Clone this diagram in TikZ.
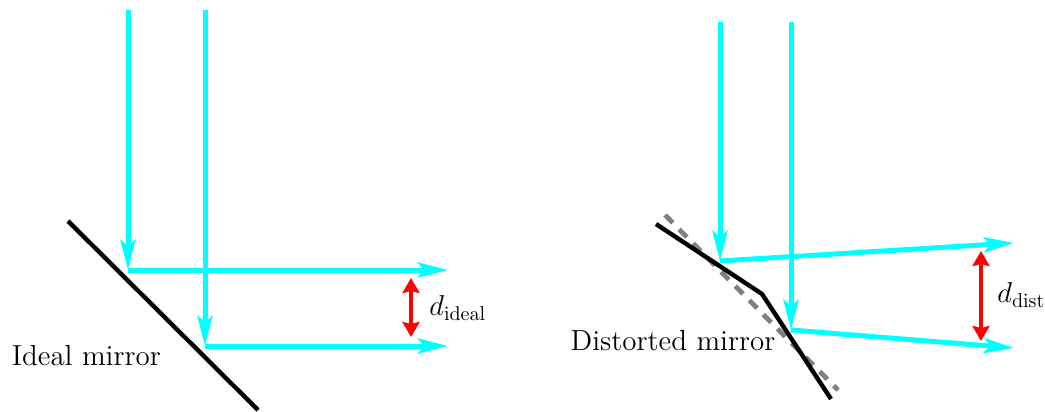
\documentclass[tikz,border=0pt]{standalone}
\usetikzlibrary{arrows.meta}
\definecolor{raycyan}{RGB}{0,255,255}
\definecolor{raygray}{RGB}{128,128,128}
\definecolor{rayred}{RGB}{255,0,0}
\begin{document}
\begin{tikzpicture}[x=0.5pt,y=-0.5pt,
  ray/.style={draw=raycyan,line width=2.5pt,-{Stealth[length=15pt,width=7.5pt,inset=3pt]}},
  mirror/.style={draw=black,line width=2.2pt},
  ideal/.style={draw=raygray,line width=2.4pt,dash pattern=on 5.5pt off 4.5pt},
  dist/.style={draw=rayred,line width=1.75pt,{Stealth[length=7.5pt,width=8.5pt,inset=1pt]}-{Stealth[length=7.5pt,width=8.5pt,inset=1pt]}},
  lbl/.style={font=\fontsize{14.5}{17}\selectfont,inner sep=0pt}]
\useasboundingbox (0,0) rectangle (1045,412);
% left panel
\coordinate (m1a) at (68,221);
\coordinate (m1b) at (258,410);
\draw[mirror] (m1a) -- (m1b);
\coordinate (l1top) at (128,10);
\coordinate (l1hit) at (128,270);
\coordinate (l1out) at (448,270);
\coordinate (l2top) at (205,10);
\coordinate (l2hit) at (205,346);
\coordinate (l2out) at (448,346);
\draw[ray] (l1top) -- (l1hit);
\draw[ray] (l2top) -- (l2hit);
\draw[ray] (l1hit) -- (l1out);
\draw[ray] (l2hit) -- (l2out);
\coordinate (dl1) at (411,278);
\coordinate (dl2) at (411,337);
\draw[dist] (dl1) -- (dl2);
\node[lbl,anchor=west] (dideal) at (429,308) {$d_{\mathrm{ideal}}$};
\node[lbl,anchor=west] (idealtxt) at (11.5,356) {Ideal mirror};
% right panel
\coordinate (g1) at (665,215);
\coordinate (g2) at (838,390);
\draw[ideal] (g1) -- (g2);
\coordinate (m2a) at (656,224);
\coordinate (m2k) at (762,294);
\coordinate (m2b) at (831,399);
\draw[mirror] (m2a) -- (m2k) -- (m2b);
\coordinate (r1top) at (720,22);
\coordinate (r1hit) at (720,261);
\coordinate (r1out) at (1014,243);
\coordinate (r2top) at (791,22);
\coordinate (r2hit) at (791,330);
\coordinate (r2out) at (1014,348);
\draw[ray] (r1top) -- (r1hit);
\draw[ray] (r2top) -- (r2hit);
\draw[ray] (r1hit) -- (r1out);
\draw[ray] (r2hit) -- (r2out);
\coordinate (dr1) at (981,251);
\coordinate (dr2) at (981,341);
\draw[dist] (dr1) -- (dr2);
\node[lbl,anchor=west] (ddist) at (997,295) {$d_{\mathrm{dist}}$};
\node[lbl] (disttxt) at (673,341) {Distorted mirror};
\end{tikzpicture}
\end{document}
